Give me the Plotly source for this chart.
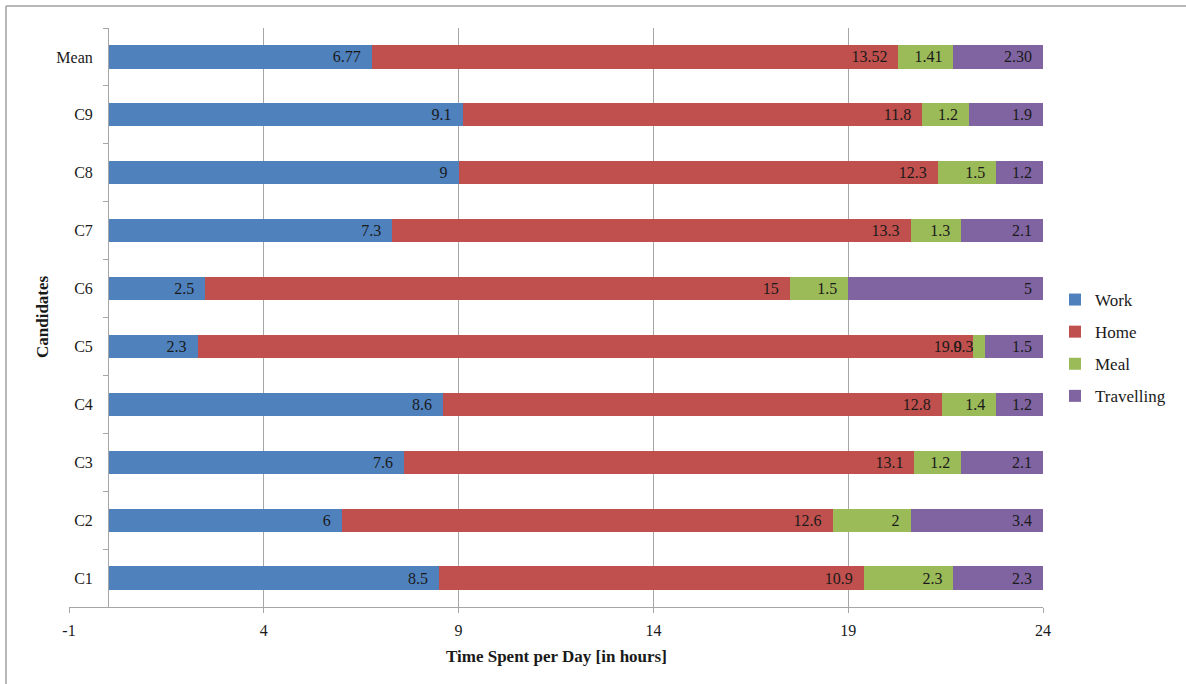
import plotly.graph_objects as go

categories = ["C1", "C2", "C3", "C4", "C5", "C6", "C7", "C8", "C9", "Mean"]
work = [8.5, 6, 7.6, 8.6, 2.3, 2.5, 7.3, 9, 9.1, 6.77]
home = [10.9, 12.6, 13.1, 12.8, 19.9, 15, 13.3, 12.3, 11.8, 13.52]
meal = [2.3, 2, 1.2, 1.4, 0.3, 1.5, 1.3, 1.5, 1.2, 1.41]
travel = [2.3, 3.4, 2.1, 1.2, 1.5, 5, 2.1, 1.2, 1.9, 2.30]
work_lbl = ["8.5", "6", "7.6", "8.6", "2.3", "2.5", "7.3", "9", "9.1", "6.77"]
home_lbl = ["10.9", "12.6", "13.1", "12.8", "19.9", "15", "13.3", "12.3", "11.8", "13.52"]
meal_lbl = ["2.3", "2", "1.2", "1.4", "0.3", "1.5", "1.3", "1.5", "1.2", "1.41"]
travel_lbl = ["2.3", "3.4", "2.1", "1.2", "1.5", "5", "2.1", "1.2", "1.9", "2.30"]
x_ticks = [-1, 4, 9, 14, 19, 24]
x_tick_text = ["-1", "4", "9", "14", "19", "24"]

series = [
    ("Work", work, work_lbl, "#4F81BD"),
    ("Home", home, home_lbl, "#C0504D"),
    ("Meal", meal, meal_lbl, "#9BBB59"),
    ("Travelling", travel, travel_lbl, "#8064A2"),
]

FONT = "Liberation Serif"
PAD = "\u00a0\u00a0"

fig = go.Figure()
for name, vals, lbls, col in series:
    fig.add_trace(go.Bar(
        y=categories, x=vals, name=name, orientation="h",
        marker=dict(color=col, line=dict(width=0)),
        text=[t + PAD for t in lbls], textposition="inside", insidetextanchor="end",
        textangle=0, constraintext="none",
        textfont=dict(family=FONT, size=16, color="#1a1a1a"),
        legendgroup=name,
    ))

L, R, T, B = 69, 1186 - 1043, 28, 684 - 607
W, H = 1186, 684
pw, ph = W - L - R, H - T - B

def px_x(p):
    return (p - L) / pw

def px_y(p):
    return (H - B - p) / ph

fig.update_layout(
    width=W, height=H,
    margin=dict(l=L, r=R, t=T, b=B, autoexpand=False),
    barmode="stack", bargap=0.6,
    plot_bgcolor="white", paper_bgcolor="white",
    font=dict(family=FONT, size=16, color="#1a1a1a"),
    xaxis=dict(
        range=[-1, 24], tickvals=x_ticks, ticktext=x_tick_text, showgrid=True,
        gridcolor="#A6A6A6", gridwidth=1, zeroline=False,
        showline=True, linecolor="#A6A6A6", linewidth=1,
        ticks="outside", ticklen=5, tickcolor="#A6A6A6",
        tickfont=dict(family=FONT, size=16, color="#1a1a1a"),
        ticklabelstandoff=4,
    ),
    yaxis=dict(
        type="category", anchor="free", position=px_x(108),
        showline=True, linecolor="#A6A6A6", linewidth=1,
        ticks="outside", ticklen=5, tickcolor="#A6A6A6",
        tickson="boundaries", showgrid=False,
        tickfont=dict(family=FONT, size=16, color="#1a1a1a"),
        ticklabelstandoff=12,
    ),
    legend=dict(
        x=px_x(1055), y=px_y(348), xanchor="left", yanchor="middle",
        traceorder="grouped", tracegroupgap=7,
        font=dict(family=FONT, size=17, color="#1a1a1a"),
        itemwidth=30, bgcolor="rgba(0,0,0,0)",
    ),
    showlegend=True,
    annotations=[
        dict(text="<b>Candidates</b>", xref="paper", yref="paper",
             x=px_x(42), y=px_y(317), textangle=-90, showarrow=False,
             xanchor="center", yanchor="middle",
             font=dict(family=FONT, size=17, color="#1a1a1a")),
        dict(text="<b>Time Spent per Day [in hours]</b>", xref="paper", yref="paper",
             x=px_x(556), y=px_y(656), showarrow=False,
             xanchor="center", yanchor="middle",
             font=dict(family=FONT, size=17, color="#1a1a1a")),
    ],
    shapes=[
        dict(type="line", xref="paper", yref="paper",
             x0=px_x(6), x1=px_x(6), y0=px_y(6), y1=px_y(700),
             line=dict(color="#A0A0A0", width=1.5)),
        dict(type="line", xref="paper", yref="paper",
             x0=px_x(6), x1=px_x(1200), y0=px_y(6), y1=px_y(6),
             line=dict(color="#A0A0A0", width=1.5)),
    ],
)

fig.write_html("out.html")
